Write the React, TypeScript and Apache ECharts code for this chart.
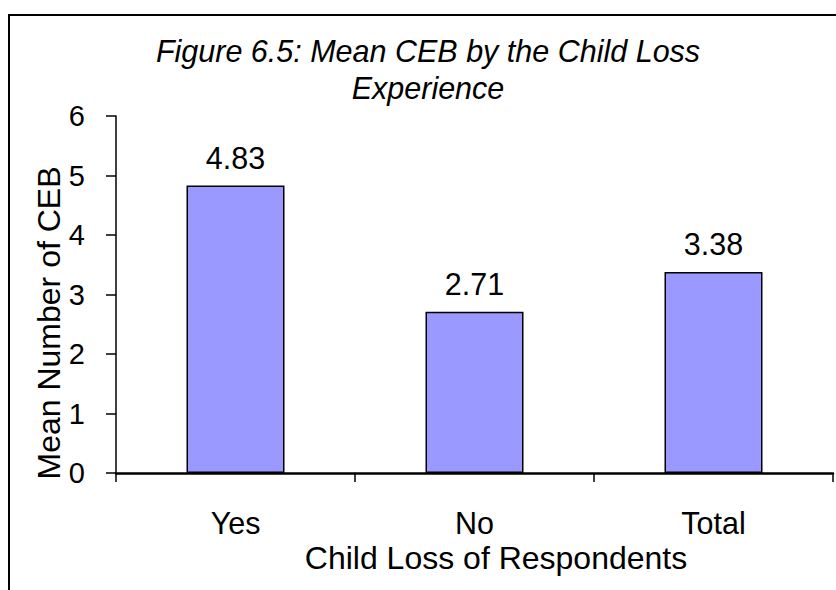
import React, { useEffect, useRef } from "react";
import * as echarts from "echarts";

// Mean children ever born (CEB) by whether the respondent lost a child
const categories: string[] = ["Yes", "No", "Total"];
const meanCEB: number[] = [4.83, 2.71, 3.38];
const yTicks = { min: 0, max: 6, interval: 1 };

const titleText = "Figure 6.5: Mean CEB by the Child Loss\nExperience";
const xName = "Child Loss of Respondents";
const yName = "Mean Number of CEB";

const FONT = "'Liberation Sans', Arial, Helvetica, sans-serif";

export default function App() {
  const ref = useRef<HTMLDivElement | null>(null);

  useEffect(() => {
    if (!ref.current) return;
    const chart = echarts.init(ref.current, undefined, { renderer: "svg" });
    chart.setOption({
      animation: false,
      backgroundColor: "#ffffff",
      textStyle: { fontFamily: FONT },
      graphic: [
        {
          type: "rect",
          shape: { x: 9, y: 15, width: 900, height: 700 },
          style: { fill: "none", stroke: "#000", lineWidth: 2 },
          silent: true,
        },
        {
          type: "text",
          x: 428,
          y: 69,
          style: {
            text: titleText,
            fontFamily: FONT,
            fontSize: 30.5,
            fontStyle: "italic",
            lineHeight: 37,
            fill: "#000",
            align: "center",
            verticalAlign: "middle",
          },
        },
        {
          type: "text",
          x: 496,
          y: 558,
          style: {
            text: xName,
            fontFamily: FONT,
            fontSize: 32,
            fill: "#000",
            align: "center",
            verticalAlign: "middle",
          },
        },
        {
          type: "text",
          x: 49,
          y: 323,
          rotation: Math.PI / 2,
          style: {
            text: yName,
            fontFamily: FONT,
            fontSize: 32,
            fill: "#000",
            align: "center",
            verticalAlign: "middle",
          },
        },
      ],
      grid: { left: 116, right: 3, top: 116, bottom: 117, containLabel: false },
      xAxis: {
        type: "category",
        data: categories,
        boundaryGap: true,
        axisLine: { show: true, lineStyle: { color: "#000", width: 2.5 } },
        axisTick: { show: true, length: 9, lineStyle: { color: "#000", width: 1.5 } },
        axisLabel: { color: "#000", fontSize: 30.5, fontFamily: FONT, margin: 34 },
        splitLine: { show: false },
      },
      yAxis: {
        type: "value",
        min: yTicks.min,
        max: yTicks.max,
        interval: yTicks.interval,
        axisLine: { show: true, lineStyle: { color: "#000", width: 1.5 } },
        axisTick: { show: true, length: 10, lineStyle: { color: "#000", width: 1.5 } },
        axisLabel: { color: "#000", fontSize: 29, fontFamily: FONT, margin: 31 },
        splitLine: { show: false },
      },
      series: [
        {
          type: "bar",
          data: meanCEB,
          barWidth: 98,
          itemStyle: { color: "#9999FF", borderColor: "#000", borderWidth: 1.5 },
          label: {
            show: true,
            position: "top",
            distance: 12,
            color: "#000",
            fontSize: 30.5,
            fontFamily: FONT,
            formatter: (p: any) => Number(p.value).toFixed(2),
          },
        },
      ],
    });
    return () => chart.dispose();
  }, []);

  return (
    <div
      ref={ref}
      style={{ position: "fixed", left: 0, top: 0, width: 836, height: 590 }}
    />
  );
}
